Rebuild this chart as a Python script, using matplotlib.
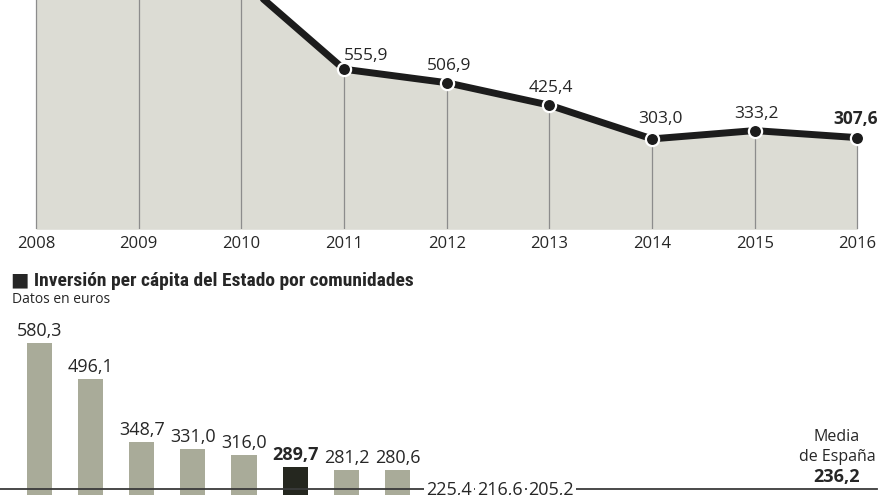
import matplotlib

matplotlib.use("Agg")
import matplotlib.pyplot as plt
from matplotlib import font_manager

# --- Datos: inversión del Estado por año (2008-2010 quedan fuera del recorte superior)
years = [2008, 2009, 2010, 2011, 2012, 2013, 2014, 2015, 2016]
year_values = [955.0, 1020.0, 880.0, 555.9, 506.9, 425.4, 303.0, 333.2, 307.6]

# --- Datos: inversión per cápita por comunidades (solo las visibles)
community_values = [580.3, 496.1, 348.7, 331.0, 316.0, 289.7, 281.2, 280.6, 225.4, 216.6, 205.2]
highlight_index = 5
media_espana = 236.2

W, H = 880, 495


def pick_font(options):
    names = {f.name for f in font_manager.fontManager.ttflist}
    for name in options:
        if name in names:
            return name
    return "DejaVu Sans"


BODY_FONT = pick_font(["Open Sans", "Liberation Sans"])
TITLE_FONT = pick_font(["Roboto Condensed", "Liberation Sans Narrow", "Open Sans"])
plt.rcParams["font.family"] = [BODY_FONT, "DejaVu Sans"]

TEXT = "#262626"
FILL = "#dcdcd4"
LINE = "#1c1c1c"
GRID = "#8c8c8c"
BAR = "#a9ab99"
BAR_HL = "#25271f"


def fmt(v):
    return f"{v:.1f}".replace(".", ",")


def px_box(left, top, right, bottom):
    """Rectángulo en píxeles (origen arriba-izquierda) -> fracción de figura."""
    return [left / W, 1 - bottom / H, (right - left) / W, (bottom - top) / H]


fig = plt.figure(figsize=(W / 100, H / 100), dpi=100)
fig.patch.set_facecolor("white")

# ---------------- Gráfico superior: evolución anual ----------------
ax1 = fig.add_axes(px_box(0, 0, W, 229.3))
y_bottom, y_top = -25, 807
ax1.set_ylim(y_bottom, y_top)
ax1.set_xlim(2007.65, 2016.22)

ax1.fill_between(years, year_values, y_bottom, color=FILL, zorder=1, linewidth=0)
ax1.vlines(years, y_bottom, year_values, color=GRID, linewidth=0.9, zorder=2)
ax1.plot(years, year_values, color=LINE, linewidth=5, zorder=3, solid_capstyle="round")
ax1.plot(
    years,
    year_values,
    linestyle="none",
    marker="o",
    markersize=9.5,
    markerfacecolor=LINE,
    markeredgecolor="white",
    markeredgewidth=1.6,
    zorder=4,
)

# Las etiquetas de 2008-2010 quedan fuera del recorte, solo se rotulan las visibles
label_offsets = {2011: (22, 13), 2014: (8, 20), 2016: (-2, 19)}
for yr, val in zip(years, year_values):
    if val > y_top:
        continue
    dx, dy = label_offsets.get(yr, (2, 17))
    last = yr == years[-1]
    ax1.annotate(
        fmt(val),
        xy=(yr, val),
        xytext=(dx, dy),
        textcoords="offset pixels",
        ha="center",
        va="center",
        fontsize=12.5,
        color=TEXT,
        fontweight="bold" if last else "normal",
        annotation_clip=False,
    )

ax1.set_xticks(years)
ax1.set_xticklabels([str(y) for y in years], fontsize=12, color=TEXT)
ax1.tick_params(axis="x", length=0, pad=5)
ax1.set_yticks([])
for s in ax1.spines.values():
    s.set_visible(False)
ax1.set_facecolor("none")

# ---------------- Gráfico inferior: comunidades ----------------
fig.text(
    11 / W,
    1 - 281 / H,
    "■ Inversión per cápita del Estado por comunidades",
    fontsize=14,
    fontweight="bold",
    color=TEXT,
    va="center",
    ha="left",
    family=[TITLE_FONT, "DejaVu Sans"],
)
fig.text(12 / W, 1 - 299.5 / H, "Datos en euros", fontsize=10, color=TEXT, va="center", ha="left")

ax2 = fig.add_axes(px_box(0, 310, W, H))
ax2.set_ylim(222.8, 658.3)
ax2.set_xlim(-0.766, 16.42)

pos = list(range(len(community_values)))
colors = [BAR_HL if i == highlight_index else BAR for i in pos]
ax2.bar(pos, community_values, width=0.49, bottom=0, color=colors, zorder=1)
ax2.axhline(media_espana, xmin=0, xmax=877 / W, color="#3a3a3a", linewidth=1.3, zorder=2)

# Las cifras bajo la media se rotulan sobre la línea (cortadas por el borde, como en el original)
for i, val in zip(pos, community_values):
    bold = i == highlight_index
    if val >= media_espana:
        ax2.annotate(
            fmt(val),
            xy=(i, val),
            xytext=(0, 3),
            textcoords="offset pixels",
            ha="center",
            va="bottom",
            fontsize=13,
            color=TEXT,
            fontweight="bold" if bold else "normal",
        )
    else:
        ax2.annotate(
            fmt(val),
            xy=(i, media_espana),
            xytext=(0, -1),
            textcoords="offset pixels",
            ha="center",
            va="center",
            fontsize=13,
            color=TEXT,
            zorder=5,
            bbox=dict(boxstyle="square,pad=0.1", facecolor="white", edgecolor="none"),
            annotation_clip=False,
        )

media_x = 837 / W
ax2.annotate("Media", xy=(media_x, media_espana), xycoords=ax2.get_yaxis_transform(),
             xytext=(0, 52), textcoords="offset pixels", ha="center", va="center",
             fontsize=11.5, color=TEXT)
ax2.annotate("de España", xy=(media_x, media_espana), xycoords=ax2.get_yaxis_transform(),
             xytext=(0, 32), textcoords="offset pixels", ha="center", va="center",
             fontsize=11.5, color=TEXT)
ax2.annotate(fmt(media_espana), xy=(media_x, media_espana), xycoords=ax2.get_yaxis_transform(),
             xytext=(0, 12), textcoords="offset pixels", ha="center", va="center",
             fontsize=13, fontweight="bold", color=TEXT)

ax2.axis("off")

fig.savefig("out.png", dpi=100, facecolor="white")
